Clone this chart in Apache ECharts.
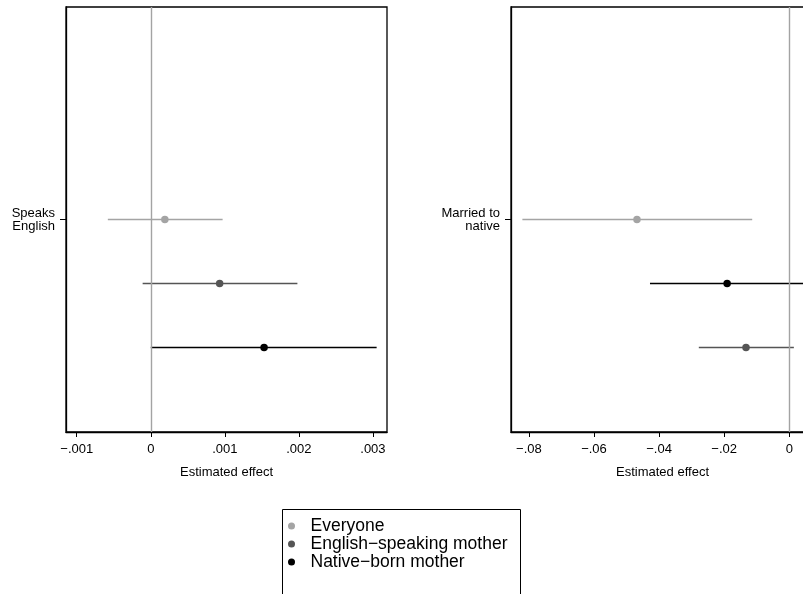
<!DOCTYPE html>
<html><head><meta charset="utf-8">
<script src="https://cdn.jsdelivr.net/npm/echarts@6/dist/echarts.min.js"></script>
<style>html,body{margin:0;padding:0;background:#fff}#c{width:803px;height:594px}</style>
</head><body><div id="c"></div>
<script>
const groups = ['Everyone', 'English\u2212speaking mother', 'Native\u2212born mother'];
const groupColors = ['#a4a4a4', '#555555', '#000000'];
// Left panel: Speaks English
const leftLabel = 'Speaks\nEnglish';
const leftEst = [0.00019, 0.00093, 0.00153];
const leftLo  = [-0.00058, -0.00011, 0.00000];
const leftHi  = [0.00097, 0.00198, 0.00305];
const leftRow = [0, 1, 2];
const leftTicks = [-0.001, 0, 0.001, 0.002, 0.003];
// Right panel: Married to native
const rightLabel = 'Married to\nnative';
const rightEst = [-0.0468, -0.0133, -0.0191];
const rightLo  = [-0.0820, -0.0278, -0.0428];
const rightHi  = [-0.0114, 0.0014, 0.0060];
const rightRow = [0, 2, 1];
const rightTicks = [-0.08, -0.06, -0.04, -0.02, 0];
const xTitle = 'Estimated effect';

const FONT = '"Liberation Sans", Arial, Helvetica, sans-serif';
function fmt(v) {
  if (v === 0) return '0';
  const s = String(Math.abs(v)).replace(/^0/, '');
  return (v < 0 ? '\u2212' : '') + s;
}

const grids = [
  {left: 66, top: 7, width: 321, height: 425},
  {left: 511, top: 7, width: 303, height: 425}
];
const xRanges = [[-0.001145, 0.00319], [-0.0855, -0.0855 + 303 / 3255]];
const tickSets = [leftTicks, rightTicks];
const labels = [leftLabel, rightLabel];

const xAxes = grids.map((g, i) => ({
  type: 'value', gridIndex: i, min: xRanges[i][0], max: xRanges[i][1],
  name: xTitle, nameLocation: 'middle', nameGap: 34,
  nameTextStyle: {fontFamily: FONT, fontSize: 13, color: '#000'},
  axisLine: {show: true, onZero: false, lineStyle: {color: '#000', width: 1.3}},
  axisTick: {show: true, customValues: tickSets[i], length: 5, lineStyle: {color: '#000', width: 1}},
  axisLabel: {customValues: tickSets[i], formatter: fmt, margin: 11, fontFamily: FONT, fontSize: 13, color: '#000'},
  splitLine: {show: false}
}));
const yAxes = grids.map((g, i) => ({
  type: 'value', gridIndex: i, inverse: true, min: -3.32, max: 3.32,
  axisLine: {show: true, onZero: false, lineStyle: {color: '#000', width: 1.3}},
  axisTick: {show: true, customValues: [0], length: 6, lineStyle: {color: '#000', width: 1}},
  axisLabel: {customValues: [0], formatter: () => labels[i], margin: 11, align: 'right',
    fontFamily: FONT, fontSize: 13, lineHeight: 13, color: '#000'},
  splitLine: {show: false}
}));

const series = [];
const panels = [
  {est: leftEst, lo: leftLo, hi: leftHi, row: leftRow},
  {est: rightEst, lo: rightLo, hi: rightHi, row: rightRow}
];
panels.forEach((p, pi) => {
  series.push({
    type: 'line', xAxisIndex: pi, yAxisIndex: pi, data: [], silent: true,
    markLine: {silent: true, symbol: 'none', label: {show: false}, animation: false,
      lineStyle: {color: '#a3a3a3', type: 'solid', width: 1.4},
      data: [{xAxis: 0}]}
  });
  groups.forEach((gname, gi) => {
    series.push({
      type: 'custom', name: gname, xAxisIndex: pi, yAxisIndex: pi, z: 3,
      data: [[p.lo[gi], p.hi[gi], p.row[gi]]],
      encode: {x: [0, 1], y: 2},
      renderItem: (params, api) => {
        const a = api.coord([api.value(0), api.value(2)]);
        const b = api.coord([api.value(1), api.value(2)]);
        return {type: 'line', shape: {x1: a[0], y1: a[1], x2: b[0], y2: b[1]},
          style: {stroke: groupColors[gi], lineWidth: 1.4}};
      },
      animation: false
    });
    series.push({
      type: 'scatter', name: gname, xAxisIndex: pi, yAxisIndex: pi, z: 5,
      symbol: 'circle', symbolSize: 7.5,
      itemStyle: {color: groupColors[gi], opacity: 1},
      data: [[p.est[gi], p.row[gi]]],
      animation: false
    });
  });
});

const chart = echarts.init(document.getElementById('c'), null, {renderer: 'canvas'});
chart.setOption({
  animation: false,
  backgroundColor: '#fff',
  grid: grids.map(g => Object.assign({show: true, borderColor: '#000', borderWidth: 1.3,
    backgroundColor: 'transparent', containLabel: false, outerBoundsMode: 'none'}, g)),
  xAxis: xAxes,
  yAxis: yAxes,
  legend: {
    orient: 'vertical', left: 288, top: 517,
    data: groups.map((n, i) => ({name: n, icon: 'circle', itemStyle: {color: groupColors[i]}})),
    itemWidth: 28, itemHeight: 7, itemGap: 0, padding: 0,
    textStyle: {fontFamily: FONT, fontSize: 17.5, color: '#000'},
    selectedMode: false
  },
  graphic: [{
    type: 'rect', silent: true,
    shape: {x: 282.5, y: 509.5, width: 238, height: 120},
    style: {fill: 'none', stroke: '#000', lineWidth: 1}
  }],
  series: series
});
</script></body></html>
